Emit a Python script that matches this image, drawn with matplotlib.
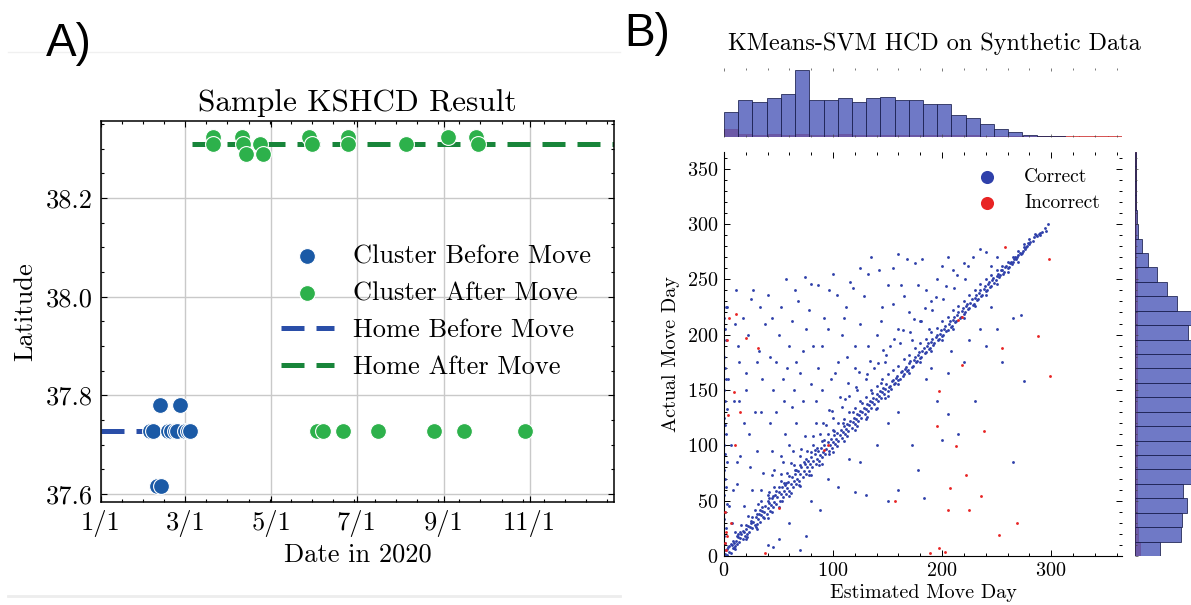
import numpy as np
import matplotlib
matplotlib.use("Agg")
import matplotlib.pyplot as plt
from matplotlib.ticker import AutoMinorLocator, MultipleLocator
from matplotlib.lines import Line2D

plt.rcParams['font.family'] = ['cmr10']
plt.rcParams['mathtext.fontset'] = 'cm'
plt.rcParams['axes.formatter.use_mathtext'] = True
plt.rcParams['axes.unicode_minus'] = False

# ---------------- panel A data ----------------
before_dates = ['2020-02-12', '2020-02-26', '2020-02-10', '2020-02-13', '2020-02-05',
                '2020-02-07', '2020-02-18', '2020-02-20', '2020-02-23', '2020-02-24',
                '2020-03-01', '2020-03-03', '2020-03-04']
before_lat = [37.78, 37.78, 37.617, 37.617, 37.728, 37.728, 37.728, 37.728, 37.728,
              37.728, 37.728, 37.728, 37.728]

after_dates = ['2020-03-21', '2020-03-21', '2020-04-10', '2020-04-11', '2020-04-13',
               '2020-04-23', '2020-04-25', '2020-05-28', '2020-05-30', '2020-06-25',
               '2020-06-25', '2020-08-05', '2020-09-04', '2020-09-24', '2020-09-25',
               '2020-06-03', '2020-06-07', '2020-06-21', '2020-07-16', '2020-08-25',
               '2020-09-15', '2020-10-29']
after_lat = [38.324, 38.31, 38.324, 38.31, 38.29, 38.31, 38.29, 38.324, 38.31, 38.324,
             38.31, 38.31, 38.324, 38.324, 38.31,
             37.728, 37.728, 37.728, 37.728, 37.728, 37.728, 37.728]

home_before = (['2020-01-01', '2020-03-06'], 37.728)
home_after = (['2020-03-06', '2020-12-31'], 38.31)

month_ticks = ['2020-01-01', '2020-03-01', '2020-05-01', '2020-07-01', '2020-09-01', '2020-11-01']
month_labels = ['1/1', '3/1', '5/1', '7/1', '9/1', '11/1']

# ---------------- panel B data ----------------
band_pts = [(1, 2), (2, 5), (3, 1), (4, 8), (5, 4), (6, 3), (7, 10), (8, 7), (9, 12), (10, 9),
            (11, 14), (12, 11), (13, 17), (14, 13), (15, 16), (16, 20), (17, 15), (18, 22), (19, 18), (20, 24),
            (21, 20), (22, 27), (23, 22), (24, 26), (25, 30), (26, 25), (27, 31), (28, 28), (29, 35), (30, 29),
            (31, 33), (32, 38), (33, 31), (34, 37), (35, 41), (36, 35), (37, 40), (38, 45), (39, 38), (40, 43),
            (41, 48), (42, 41), (43, 46), (44, 52), (45, 44), (46, 49), (47, 55), (48, 47), (49, 53), (50, 58),
            (51, 50), (52, 56), (53, 62), (54, 53), (55, 59), (56, 64), (57, 56), (58, 61), (59, 67), (60, 59),
            (61, 65), (62, 71), (63, 62), (64, 68), (65, 74), (66, 65), (67, 70), (68, 77), (69, 68), (70, 74),
            (71, 80), (72, 71), (73, 77), (74, 83), (75, 74), (76, 80), (77, 86), (78, 77), (79, 83), (80, 89),
            (81, 80), (82, 86), (83, 92), (84, 83), (85, 88), (86, 95), (87, 86), (88, 91), (89, 98), (90, 89),
            (91, 94), (92, 100), (93, 92), (94, 97), (95, 103), (96, 95), (97, 100), (98, 106), (99, 98), (100, 103),
            (101, 109), (102, 101), (103, 106), (104, 111), (105, 104), (106, 109), (107, 114), (108, 107), (109, 112), (110, 117),
            (111, 110), (112, 115), (113, 119), (114, 113), (115, 118), (116, 122), (117, 116), (118, 121), (119, 125), (120, 119),
            (121, 124), (122, 128), (123, 122), (124, 127), (125, 131), (126, 125), (127, 130), (128, 134), (129, 128), (130, 133),
            (131, 137), (132, 131), (133, 136), (134, 140), (135, 134), (136, 139), (137, 143), (138, 137), (139, 142), (140, 146),
            (141, 140), (142, 145), (143, 149), (144, 143), (145, 148), (146, 152), (147, 146), (148, 151), (149, 155), (150, 149),
            (152, 154), (154, 158), (156, 155), (158, 161), (160, 159), (162, 166), (164, 163), (166, 169), (168, 167), (170, 174),
            (172, 171), (174, 177), (176, 175), (178, 182), (180, 179), (182, 185), (184, 183), (186, 190), (188, 187), (190, 193),
            (192, 191), (194, 198), (196, 195), (198, 201), (200, 199), (202, 205), (204, 203), (206, 210), (208, 207), (210, 213),
            (212, 211), (214, 218), (216, 215), (218, 221), (220, 219), (222, 226), (224, 223), (226, 229), (228, 227), (230, 233),
            (232, 231), (234, 238), (236, 235), (238, 241), (240, 239), (242, 246), (244, 243), (246, 249), (248, 247), (250, 253),
            (252, 252), (254, 258), (256, 255), (258, 261), (260, 260), (262, 265), (264, 264), (266, 268), (268, 268), (270, 272),
            (272, 273), (274, 276), (276, 277), (278, 280), (280, 282), (283, 285), (286, 290), (289, 291), (292, 293), (297, 300)]

band_extra = [(151, 153), (153, 151), (155, 159), (157, 156), (159, 163), (161, 160), (163, 167), (165, 164), (167, 171), (169, 168),
              (171, 176), (173, 172), (175, 180), (177, 176), (179, 184), (181, 180), (183, 188), (185, 184), (187, 192), (189, 188),
              (191, 196), (193, 192), (195, 200), (197, 196), (199, 204), (201, 200), (203, 208), (205, 204), (207, 212), (209, 208),
              (211, 216), (213, 212), (215, 220), (217, 216), (219, 224), (221, 220), (223, 228), (225, 224), (227, 232), (229, 228),
              (231, 236), (233, 232), (235, 240), (237, 236), (239, 244), (241, 240), (243, 248), (245, 244), (247, 251), (249, 249),
              (251, 255), (253, 254), (255, 258), (257, 257), (259, 262), (261, 261), (263, 266), (265, 266), (267, 270), (269, 270),
              (271, 274), (273, 274), (275, 279), (277, 279), (279, 283), (281, 284), (284, 288), (287, 289), (290, 290), (294, 296),
              (3, 6), (6, 11), (9, 7), (13, 20), (17, 23), (21, 17), (26, 35), (29, 26), (33, 42), (37, 34),
              (41, 52), (44, 40), (48, 59), (53, 50), (57, 66), (61, 57), (66, 78), (69, 64), (73, 85), (78, 73),
              (83, 96), (87, 82), (92, 105), (96, 92), (101, 113), (104, 99), (109, 120), (113, 108), (118, 130), (122, 117),
              (127, 138), (131, 126), (136, 147), (139, 133), (144, 156), (148, 143)]

band_upper = [(5, 9), (8, 14), (12, 18), (15, 22), (20, 28), (25, 32), (30, 38), (35, 44), (40, 50), (45, 54),
              (50, 62), (55, 66), (60, 72), (65, 78), (70, 82), (75, 88), (80, 94), (85, 98), (90, 104), (95, 110),
              (100, 114), (105, 120), (110, 124), (115, 130), (120, 134), (125, 140), (130, 144), (135, 150), (140, 154), (145, 160),
              (150, 164), (155, 168), (160, 172), (165, 178), (170, 182), (175, 188), (180, 192), (185, 196), (190, 202), (195, 206),
              (200, 212), (205, 216), (210, 222), (215, 226), (220, 230), (225, 236), (230, 240), (235, 246), (240, 250), (245, 254),
              (250, 258), (255, 262), (260, 266), (265, 270), (270, 276), (275, 282), (280, 286), (285, 291), (290, 292), (295, 294),
              (31, 47), (34, 60), (41, 58), (44, 73), (52, 74), (54, 85), (61, 84), (63, 95), (71, 97), (74, 108),
              (82, 108), (84, 120), (91, 120), (96, 132), (99, 131), (106, 144), (111, 142), (114, 156), (121, 153), (124, 166),
              (131, 164), (134, 176), (141, 174), (146, 186), (149, 182), (156, 196), (161, 192), (164, 204), (171, 202), (174, 214),
              (181, 212), (184, 224), (191, 222), (194, 234), (201, 232), (204, 244), (211, 242), (214, 254), (221, 250), (224, 262)]

band_lower = [(10, 6), (20, 15), (30, 24), (40, 34), (50, 44), (60, 54), (70, 63), (80, 73), (90, 83), (100, 94),
              (110, 104), (120, 114), (130, 124), (140, 134), (150, 145), (160, 155), (170, 165), (180, 175), (190, 185), (200, 195),
              (210, 205), (220, 215), (230, 226), (240, 236), (250, 246), (260, 257), (270, 266)]

scatter_above = [(0, 5), (1, 12), (0, 18), (2, 25), (0, 33), (1, 40), (3, 47), (0, 55), (2, 62), (1, 70),
                 (0, 78), (3, 85), (1, 92), (0, 100), (2, 110), (1, 118), (0, 125), (3, 133), (1, 140), (0, 150),
                 (2, 160), (1, 170), (0, 180), (2, 195), (1, 205), (0, 215), (2, 225), (11, 240),
                 (12, 65), (15, 90), (18, 120), (20, 150), (14, 175), (22, 200), (25, 232), (10, 210), (30, 95), (28, 130),
                 (35, 160), (32, 185), (38, 210), (40, 236), (42, 120), (45, 150), (48, 175), (50, 200), (52, 225), (55, 140),
                 (58, 170), (60, 190), (62, 212), (65, 240), (36, 75), (44, 95), (56, 110), (26, 60), (18, 45), (24, 80),
                 (46, 78), (52, 90), (60, 100), (66, 120), (64, 150), (70, 165), (72, 185), (75, 205), (78, 222), (80, 246),
                 (84, 140), (86, 170), (90, 190), (92, 215), (96, 240), (100, 255), (98, 160), (105, 175), (108, 200), (112, 225),
                 (116, 248), (120, 190), (125, 210), (128, 235), (132, 255), (135, 270), (140, 200), (145, 225), (150, 245), (155, 260),
                 (160, 273), (168, 268), (175, 265), (182, 268), (165, 235), (170, 220), (178, 245), (185, 240), (190, 230), (195, 250),
                 (200, 262), (205, 270), (210, 258), (220, 265), (228, 270), (235, 277), (240, 275), (245, 262), (250, 270), (188, 205),
                 (180, 212), (172, 195), (160, 205), (152, 190), (148, 175), (138, 170), (130, 160), (122, 150), (115, 145), (108, 135),
                 (100, 125), (94, 118), (88, 110), (82, 100), (76, 95), (70, 90), (64, 82), (58, 75), (52, 68), (46, 62),
                 (40, 55), (34, 50), (28, 42), (22, 36), (16, 28), (10, 22), (7, 30), (5, 45), (8, 60), (12, 85),
                 (6, 100), (9, 140), (4, 160), (13, 190), (3, 225), (17, 215), (27, 240), (33, 225), (44, 215), (57, 250),
                 (68, 230), (74, 252), (86, 245), (104, 236), (118, 242), (125, 260), (142, 258), (110, 215), (95, 205), (82, 190),
                 (66, 175), (54, 160), (42, 180), (30, 175), (20, 165), (14, 140), (23, 110), (34, 130), (48, 130), (62, 135),
                 (72, 140), (80, 155), (90, 150), (102, 165), (113, 180), (120, 170), (132, 190), (144, 212), (155, 228), (162, 245)]

scatter_below = [(150, 50), (183, 52), (160, 60), (130, 55), (120, 58), (105, 62), (178, 78), (172, 100), (200, 105), (205, 128),
                 (215, 110), (230, 140), (265, 85), (275, 158), (240, 190), (255, 175), (250, 205), (265, 215), (272, 218), (245, 225),
                 (225, 195), (208, 185), (190, 170), (195, 140), (150, 120), (140, 100), (115, 88), (88, 42), (70, 5), (75, 18),
                 (50, 15), (45, 8), (40, 10), (60, 30), (80, 50), (95, 70), (125, 85), (160, 130), (185, 160), (205, 165),
                 (220, 175), (235, 205)]

incorrect_pts = [(197, 149), (195, 117), (213, 99), (222, 73), (207, 61), (205, 42), (225, 42), (236, 54), (238, 113), (269, 30),
                 (252, 19), (197, 7), (189, 3), (203, 4), (157, 50), (38, 3), (2, 5), (1, 12), (3, 18), (2, 22),
                 (4, 127), (9, 148), (5, 215), (11, 219), (20, 197), (31, 188), (3, 195), (215, 213), (218, 216), (258, 279),
                 (298, 268), (288, 199), (255, 188), (299, 163), (218, 173), (50, 43), (1, 40), (6, 30), (15, 130), (10, 100),
                 (95, 100), (92, 96)]

# marginal histograms, 28 bins over 0..365 days
hist_edges = np.linspace(0, 365, 29)
est_hist_correct = [74, 112, 104, 116, 130, 200, 110, 112, 118, 104, 116, 120, 110, 112,
                    100, 100, 65, 57, 40, 24, 14, 6, 3, 2, 1, 1, 1, 1]
est_hist_incorrect = [24, 8, 7, 8, 7, 8, 7, 7, 8, 7, 7, 7, 6, 7,
                      6, 6, 5, 5, 4, 4, 4, 3, 3, 3, 3, 3, 3, 3]
act_hist_correct = [47, 86, 88, 98, 90, 105, 118, 122, 120, 124, 126, 122, 125, 120,
                    123, 101, 118, 80, 60, 41, 25, 14, 6, 4, 2, 2, 1, 1]
act_hist_incorrect = [10, 5, 4, 4, 4, 4, 4, 4, 4, 4, 4, 4, 4, 4,
                      4, 4, 4, 3, 3, 3, 2, 2, 2, 2, 2, 2, 2, 2]

W, H = 1191, 605
fig = plt.figure(figsize=(W / 100, H / 100), dpi=100)


def frac(x0, y0, x1, y1):
    return [x0 / W, 1 - y1 / H, (x1 - x0) / W, (y1 - y0) / H]


# ================= panel A =================
axA = fig.add_axes(frac(101, 121, 614, 502))
c_blue, c_green = '#1b5aa6', '#2db14b'
d_before = np.array(before_dates, dtype='datetime64[D]')
d_after = np.array(after_dates, dtype='datetime64[D]')
axA.scatter(d_before, before_lat, s=130, color=c_blue, edgecolor='white', linewidth=0.8,
            zorder=3, label='Cluster Before Move')
axA.scatter(d_after, after_lat, s=130, color=c_green, edgecolor='white', linewidth=0.8,
            zorder=3, label='Cluster After Move')
axA.plot(np.array(home_before[0], dtype='datetime64[D]'), [home_before[1]] * 2,
         color='#2a4ea8', lw=3.6, ls=(0, (4.6, 2.4)), zorder=2, label='Home Before Move')
axA.plot(np.array(home_after[0], dtype='datetime64[D]'), [home_after[1]] * 2,
         color='#18853a', lw=3.6, ls=(0, (4.6, 2.4)), zorder=2, label='Home After Move')

axA.set_xlim(np.datetime64('2020-01-01'), np.datetime64('2020-12-31'))
axA.set_ylim(37.584, 38.356)
axA.set_xticks(np.array(month_ticks, dtype='datetime64[D]'))
axA.set_xticklabels(month_labels)
axA.set_yticks([37.6, 37.8, 38.0, 38.2])
axA.set_yticklabels(['37.6', '37.8', '38.0', '38.2'])
axA.xaxis.set_minor_locator(AutoMinorLocator(4))
axA.yaxis.set_minor_locator(AutoMinorLocator(4))
axA.grid(True, which='major', color='#c9c9c9', lw=1.0)
axA.set_axisbelow(True)
axA.tick_params(which='both', direction='in', top=True, right=True, labelsize=19, width=0.8)
axA.tick_params(which='major', length=4.5, pad=6)
axA.tick_params(which='minor', length=2.5)
for sp in axA.spines.values():
    sp.set_linewidth(1.1)
axA.set_title('Sample KSHCD Result', fontsize=22.5, pad=7)
axA.set_xlabel('Date in 2020', fontsize=19, labelpad=4)
axA.set_ylabel('Latitude', fontsize=19, labelpad=6)
axA.legend(loc='upper left', bbox_to_anchor=(0.325, 0.71), frameon=False, fontsize=19,
           handlelength=2.0, handletextpad=0.75, labelspacing=0.5, borderpad=0)

# ================= panel B =================
bx0, bx1, by0, by1 = 724, 1122, 152, 556
axB = fig.add_axes(frac(bx0, by0, bx1, by1))
axT = fig.add_axes(frac(bx0, 68, bx1, 137))
axR = fig.add_axes(frac(1135, by0, 1204, by1))

c_ok, c_bad = '#2f40aa', '#e82424'
ok = band_pts + band_extra + band_upper + band_lower + scatter_above + scatter_below
ok_est, ok_act = zip(*ok)
bad_est, bad_act = zip(*incorrect_pts)
axB.scatter(ok_est, ok_act, s=4.2, color=c_ok, linewidths=0, label='Correct', zorder=2)
axB.scatter(bad_est, bad_act, s=4.2, color=c_bad, linewidths=0, label='Incorrect', zorder=3)
axB.set_xlim(0, 365)
axB.set_ylim(0, 365)
axB.xaxis.set_major_locator(MultipleLocator(100))
axB.xaxis.set_minor_locator(MultipleLocator(20))
axB.yaxis.set_major_locator(MultipleLocator(50))
axB.yaxis.set_minor_locator(MultipleLocator(10))
axB.tick_params(which='both', direction='in', top=True, right=True, labelsize=14.5, width=0.7)
axB.tick_params(which='major', length=4, pad=4)
axB.tick_params(which='minor', length=2)
axB.spines['top'].set_visible(False)
axB.spines['right'].set_visible(False)
axB.set_xlabel('Estimated Move Day', fontsize=14.5, labelpad=3)
axB.set_ylabel('Actual Move Day', fontsize=14.5, labelpad=5)
axB.legend(loc='upper left', bbox_to_anchor=(0.588, 0.985), frameon=False, fontsize=14,
           markerscale=4.6, handletextpad=0.9, labelspacing=0.45, borderpad=0)

bw = np.diff(hist_edges)
axT.bar(hist_edges[:-1], est_hist_incorrect, width=bw, align='edge', color=c_bad, alpha=0.7,
        edgecolor='#c01818', lw=0.6)
axT.bar(hist_edges[:-1], est_hist_correct, width=bw, align='edge', color='#4b57b8', alpha=0.8,
        edgecolor='#1a1f4e', lw=0.7)
axT.set_xlim(0, 365)
axT.set_ylim(0, max(est_hist_correct) * 1.035)

axR.barh(hist_edges[:-1], act_hist_incorrect, height=bw, align='edge', color=c_bad, alpha=0.7,
         edgecolor='#c01818', lw=0.6)
axR.barh(hist_edges[:-1], act_hist_correct, height=bw, align='edge', color='#4b57b8', alpha=0.8,
         edgecolor='#1a1f4e', lw=0.7)
axR.set_ylim(0, 365)
axR.set_xlim(0, max(act_hist_correct) * 1.035)

for ax in (axT, axR):
    for sp in ax.spines.values():
        sp.set_visible(False)
    ax.xaxis.set_major_locator(MultipleLocator(100))
    ax.xaxis.set_minor_locator(MultipleLocator(20))
    ax.yaxis.set_major_locator(MultipleLocator(50))
    ax.yaxis.set_minor_locator(MultipleLocator(10))
    ax.tick_params(which='both', direction='in', top=True, bottom=True, left=True, right=True,
                   labelbottom=False, labelleft=False, width=0.5, color='#444444')
    ax.tick_params(which='major', length=2.5)
    ax.tick_params(which='minor', length=1.5)
axT.tick_params(axis='y', which='both', left=False, right=False)
axR.tick_params(axis='x', which='both', top=False, bottom=False)

fig.text((bx0 + 1144) / 2 / W, 1 - 44 / H, 'KMeans-SVM HCD on Synthetic Data',
         fontsize=17.4, ha='center', va='center')

# panel letters
fig.text(46 / W, 1 - 56 / H, 'A)', fontsize=33, family=['Liberation Sans', 'DejaVu Sans'],
         va='baseline', ha='left')
fig.text(624 / W, 1 - 46 / H, 'B)', fontsize=33, family=['Liberation Sans', 'DejaVu Sans'],
         va='baseline', ha='left')

# faint page edges from the source composite
fig.add_artist(Line2D([8 / W, 620 / W], [1 - 52 / H] * 2, color='#f0f0f0', lw=1))
fig.add_artist(Line2D([8 / W, 620 / W], [1 - 596 / H] * 2, color='#ededed', lw=2))

fig.savefig('out.png', dpi=100)
